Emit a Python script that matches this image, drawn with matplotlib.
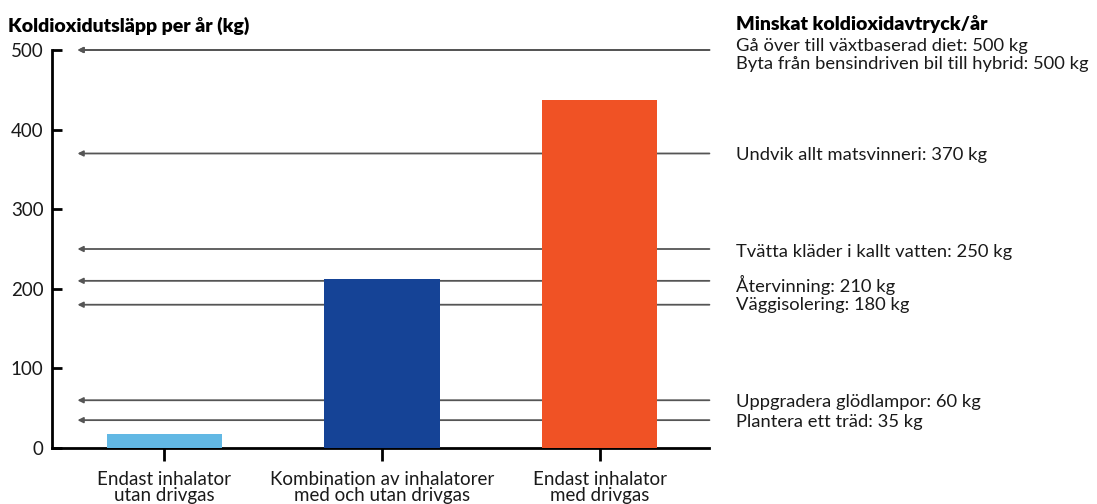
import matplotlib
matplotlib.use("Agg")
import matplotlib.pyplot as plt
import numpy as np

plt.rcParams['font.family'] = ['Lato', 'DejaVu Sans']

categories = ["Endast inhalator\nutan drivgas",
              "Kombination av inhalatorer\nmed och utan drivgas",
              "Endast inhalator\nmed drivgas"]
emissions = [18, 212, 437]
bar_colors = ["#62B8E4", "#154396", "#F05225"]

actions = ["Gå över till växtbaserad diet: 500 kg",
           "Byta från bensindriven bil till hybrid: 500 kg",
           "Undvik allt matsvinneri: 370 kg",
           "Tvätta kläder i kallt vatten: 250 kg",
           "Återvinning: 210 kg",
           "Väggisolering: 180 kg",
           "Uppgradera glödlampor: 60 kg",
           "Plantera ett träd: 35 kg"]
savings = [500, 500, 370, 250, 210, 180, 60, 35]
label_offsets_pt = [3.0, -9.8, -1, -2, -3, 0, -1, -1]

yticks = [0, 100, 200, 300, 400, 500]

W, H = 1097, 504
fig = plt.figure(figsize=(W / 100, H / 100), dpi=100)
ax = fig.add_axes([52 / W, 1 - 448 / H, (709 - 52) / W, (448 - 50) / H])

x = np.arange(len(categories))
ax.bar(x, emissions, width=0.53, color=bar_colors, zorder=3)

ax.set_xlim(-0.517, 2.503)
ax.set_ylim(0, 500)

# arrow lines
for v in savings:
    ax.annotate('', xy=(-0.40, v), xytext=(2.505, v),
                arrowprops=dict(arrowstyle='-|>', color='#555555', lw=1.3,
                                mutation_scale=8, shrinkA=0, shrinkB=0,
                                facecolor='black'),
                annotation_clip=False, zorder=1)

for lab, v, off in zip(actions, savings, label_offsets_pt):
    ax.annotate(lab, xy=(1.041, v), xycoords=('axes fraction', 'data'),
                xytext=(0, off), textcoords='offset points',
                ha='left', va='center', fontsize=13.2, color='#1a1a1a',
                annotation_clip=False)

for s in ['top', 'right']:
    ax.spines[s].set_visible(False)
for s in ['left', 'bottom']:
    ax.spines[s].set_linewidth(2)
    ax.spines[s].set_color('black')

ax.set_yticks(yticks)
ax.set_yticklabels([str(t) for t in yticks])
ax.tick_params(axis='y', direction='in', length=7, width=2, pad=6,
               labelsize=13.5, labelcolor='#1a1a1a')
ax.set_xticks(x)
ax.set_xticklabels(categories, linespacing=0.95)
ax.tick_params(axis='x', direction='out', length=9, width=2, pad=7.5,
               labelsize=13.5, labelcolor='#1a1a1a')

fig.text(8 / W, 1 - 26 / H, "Koldioxidutsläpp per år (kg)", fontsize=14,
         fontweight='heavy', ha='left', va='center', color='black')
fig.text(736 / W, 1 - 24 / H, "Minskat koldioxidavtryck/år", fontsize=14,
         fontweight='heavy', ha='left', va='center', color='black')

fig.savefig("out.png", dpi=100)
